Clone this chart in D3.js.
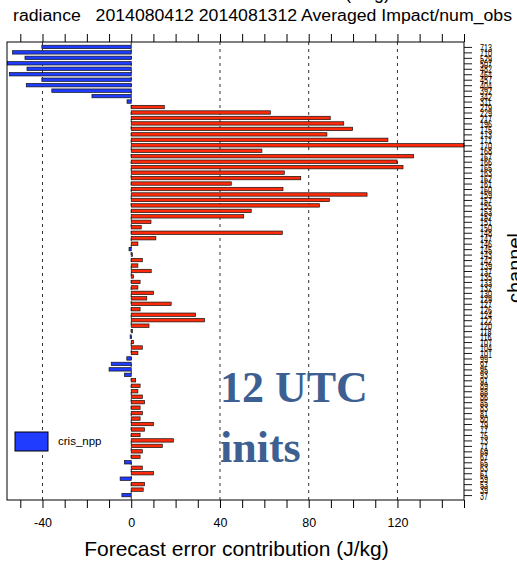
<!DOCTYPE html>
<html>
<head>
<meta charset="utf-8">
<script src="https://cdn.jsdelivr.net/npm/d3@7"></script>
<style>
  html, body { margin: 0; padding: 0; background: #fff; }
  svg { display: block; font-family: "Liberation Sans", Arial, Helvetica, sans-serif; }
</style>
</head>
<body>
<svg id="chart" width="517" height="561"></svg>
<script>
// CrIS NPP channels, listed top to bottom
const channels = [
  713, 710, 529, 507, 482, 464, 457, 404, 392, 342, 311,
  279, 229, 217, 196, 175, 173, 171, 170,
  168, 167, 166, 165, 163, 162, 161, 160, 159, 157, 155,
  153, 152, 151, 150, 148, 147, 146, 145, 143, 142,
  139, 137, 135, 133, 132, 130, 129, 127, 126, 124, 122, 120, 118, 116, 107, 104, 101,
  99, 97, 95, 93, 91, 89, 88, 86, 85, 83, 81, 80, 79, 77, 75, 73, 71, 69, 67, 65, 63, 61, 59, 53, 39, 37
];

// Averaged forecast error contribution per observation (J/kg), same order
const impact = [
  -40.3, -53.5, -47.9, -55.8, -47.0, -54.9, -40.3, -47.3, -35.8, -17.7, -1.9,
  14.9, 62.7, 89.7, 95.8, 99.8, 88.2, 115.7, 150.0,
  58.9, 127.3, 119.8, 122.5, 69.0, 76.4, 45.1, 68.4, 106.3, 89.3, 84.8,
  54.1, 50.7, 8.9, 4.5, 68.1, 11.1, 3.0, -1.0, 0.5, 5.0,
  3.0, 9.0, 1.0, 4.0, 3.0, 10.0, 7.0, 18.0, 4.0, 29.0, 33.0, 8.0, 0.5, -0.5, 1.0, 5.0, 3.0,
  -2.0, -9.0, -10.0, -3.0, 2.0, 4.0, 3.0, 5.0, 6.0, 4.0, 5.0, 4.0, 10.0, 6.0, 4.0, 19.0, 14.0, 5.0, 4.0, -3.0, 5.0, 10.0, -5.0, 6.0, 5.4, -4.2
];

const xTicks = [-40, 0, 40, 80, 120];
const xMinorTicks = [-50, -40, -30, -20, -10, 0, 10, 20, 30, 40, 50, 60, 70, 80, 90, 100, 110, 120, 130, 140, 150];

const titleText = "radiance   2014080412 2014081312 Averaged Impact/num_obs";
const xTitle = "Forecast error contribution (J/kg)";
const yTitle = "channel";
const legendLabel = "cris_npp";
const noteLines = ["12 UTC", "inits"];

const svg = d3.select("#chart");

const plot = { left: 7, right: 464, top: 42, bottom: 500 };

const x = d3.scaleLinear().domain([-56, 150]).range([plot.left, plot.right]);
const y = d3.scaleLinear().domain([-0.9, channels.length - 0.1]).range([plot.top, plot.bottom]);

const barH = 3.4;
const posColor = "#ff2a0a";
const negColor = "#1f3cff";

// partially visible heading above the plot
svg.append("text")
  .attr("x", 345).attr("y", -1)
  .attr("font-size", 18)
  .attr("fill", "#000")
  .text("(J/kg)");

// title
svg.append("text")
  .attr("x", 13).attr("y", 21)
  .attr("font-size", 16)
  .attr("fill", "#000")
  .attr("textLength", 499)
  .attr("lengthAdjust", "spacingAndGlyphs")
  .style("white-space", "pre")
  .text(titleText);

// dashed grid lines at labelled x values
svg.append("g")
  .selectAll("line")
  .data(xTicks)
  .join("line")
  .attr("x1", d => x(d)).attr("x2", d => x(d))
  .attr("y1", plot.top).attr("y2", plot.bottom)
  .attr("stroke", "#333")
  .attr("stroke-width", 1)
  .attr("stroke-dasharray", "3,4");

// bars
svg.append("g")
  .selectAll("rect")
  .data(impact)
  .join("rect")
  .attr("x", d => Math.min(x(0), x(d)))
  .attr("width", d => Math.abs(x(d) - x(0)))
  .attr("y", (d, i) => y(i) - barH / 2)
  .attr("height", barH)
  .attr("fill", d => d < 0 ? negColor : posColor)
  .attr("stroke", "#111")
  .attr("stroke-width", 0.7);

// frame
svg.append("rect")
  .attr("x", plot.left).attr("y", plot.top)
  .attr("width", plot.right - plot.left)
  .attr("height", plot.bottom - plot.top)
  .attr("fill", "none")
  .attr("stroke", "#000")
  .attr("stroke-width", 1);

// bottom axis
const xAxisBottom = d3.axisBottom(x)
  .tickValues(xMinorTicks)
  .tickSize(8)
  .tickPadding(10)
  .tickFormat(d => xTicks.includes(d) ? d : "");
const gb = svg.append("g")
  .attr("transform", `translate(0,${plot.bottom})`)
  .call(xAxisBottom);
gb.select(".domain").remove();
gb.selectAll("text").attr("font-size", 12.5).attr("font-family", "Liberation Sans, Arial, sans-serif").attr("fill", "#000");
gb.selectAll("line").attr("stroke", "#000");

// top axis ticks
const gt = svg.append("g")
  .attr("transform", `translate(0,${plot.top})`)
  .call(d3.axisTop(x).tickValues(xMinorTicks).tickSize(8).tickFormat(""));
gt.select(".domain").remove();
gt.selectAll("line").attr("stroke", "#000");

// right axis with channel labels (tightly packed, condensed glyphs)
const yAxisRight = d3.axisRight(y)
  .tickValues(d3.range(channels.length))
  .tickSize(8)
  .tickPadding(0)
  .tickFormat(i => channels[i]);
const gr = svg.append("g")
  .attr("transform", `translate(${plot.right},0)`)
  .call(yAxisRight);
gr.select(".domain").remove();
gr.selectAll("line").attr("stroke", "#000").attr("stroke-width", 0.9);
gr.selectAll("text")
  .attr("font-size", 11.5)
  .attr("font-family", "Liberation Sans, Arial, sans-serif")
  .attr("fill", "#000")
  .attr("x", 0)
  .attr("dy", "0.36em")
  .attr("transform", "translate(16,0) scale(0.62,1)")
  .attr("text-anchor", "start");

// x axis title
svg.append("text")
  .attr("x", (plot.left + plot.right) / 2 + 1)
  .attr("y", 556)
  .attr("text-anchor", "middle")
  .attr("font-size", 21)
  .attr("fill", "#000")
  .text(xTitle);

// y axis title on the right, rotated
svg.append("text")
  .attr("transform", "translate(522,268) rotate(-90)")
  .attr("text-anchor", "middle")
  .attr("font-size", 20)
  .attr("fill", "#000")
  .text(yTitle);

// legend
const lg = svg.append("g");
lg.append("rect")
  .attr("x", 15).attr("y", 432)
  .attr("width", 33).attr("height", 19)
  .attr("fill", negColor)
  .attr("stroke", "#000")
  .attr("stroke-width", 1);
lg.append("text")
  .attr("x", 58).attr("y", 445)
  .attr("font-size", 11.5)
  .attr("fill", "#000")
  .text(legendLabel);

// annotation
svg.append("g")
  .selectAll("text")
  .data(noteLines)
  .join("text")
  .attr("x", 220)
  .attr("y", (d, i) => 402 + i * 60)
  .attr("font-family", "Liberation Serif, 'Times New Roman', serif")
  .attr("font-weight", "bold")
  .attr("font-size", 44)
  .attr("fill", "#3d5f91")
  .text(d => d);
</script>
</body>
</html>
